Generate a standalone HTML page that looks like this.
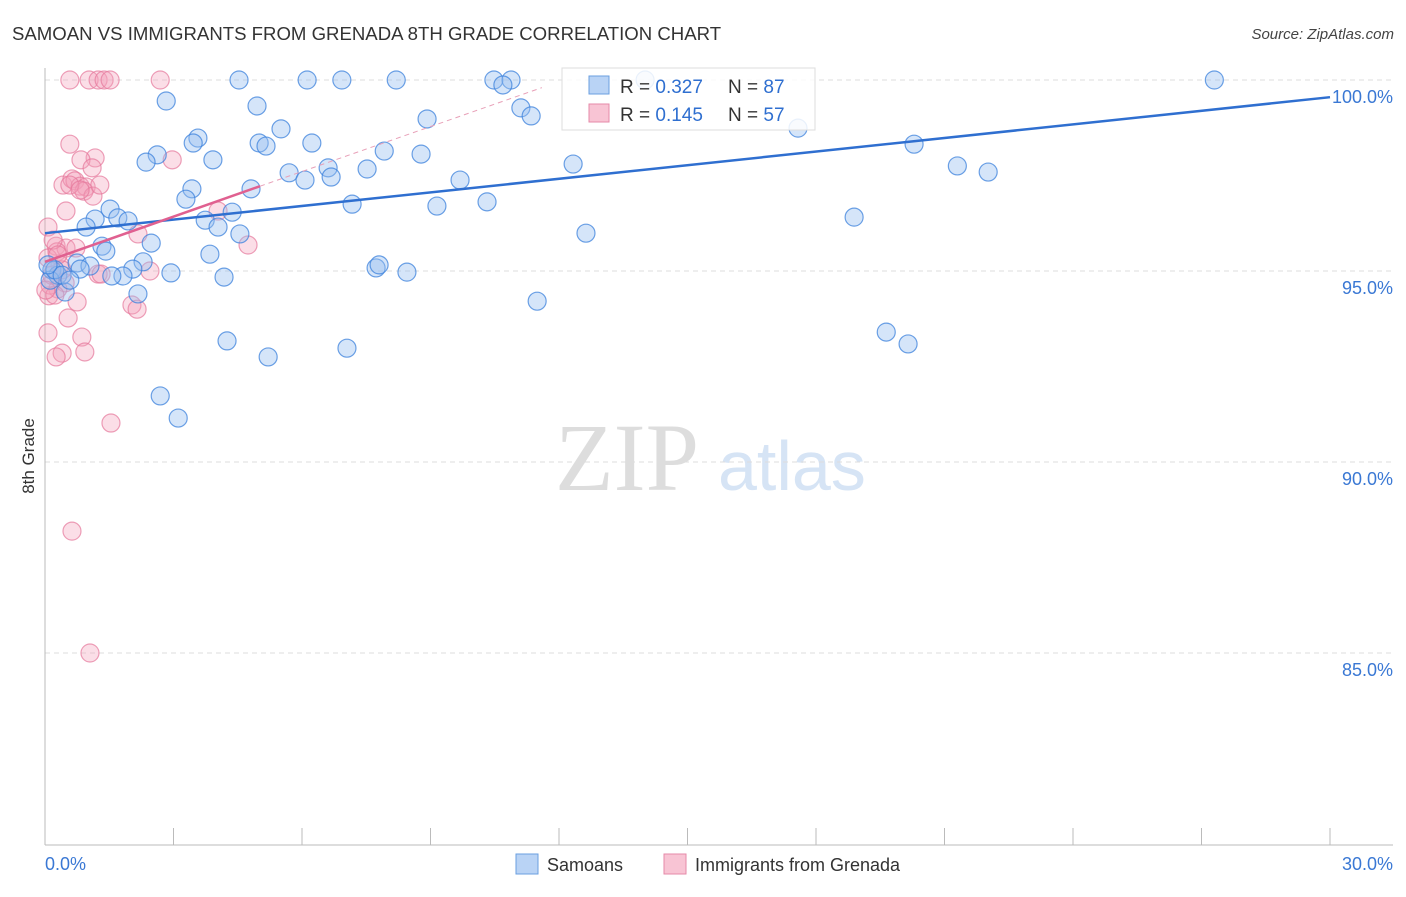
<!DOCTYPE html>
<html><head><meta charset="utf-8"><style>
body{margin:0;background:#fff;font-family:"Liberation Sans",sans-serif}
svg text{font-family:"Liberation Sans",sans-serif}
</style></head><body>
<svg id="chart" width="1406" height="892" viewBox="0 0 1406 892" xmlns="http://www.w3.org/2000/svg">
<text x="12" y="40" font-size="18.6" fill="#333">SAMOAN VS IMMIGRANTS FROM GRENADA 8TH GRADE CORRELATION CHART</text>
<text x="1394" y="39" font-size="15" fill="#444" text-anchor="end" font-style="italic">Source: ZipAtlas.com</text>
<g>
<text x="555" y="490" font-size="96" fill="#ddd" style="font-family:'Liberation Serif',serif">ZIP</text>
<text x="718" y="490" font-size="70" fill="#d6e4f5">atlas</text>
</g>
<g id="grid"></g>
<g id="axes"></g>
<g id="pts"></g>
<g id="trends"></g>
<text transform="translate(34,456) rotate(-90)" font-size="17" fill="#333" text-anchor="middle">8th Grade</text>
<g>
<rect x="562" y="68" width="253" height="62" fill="#fff" fill-opacity="0.85" stroke="#ddd"/>
<rect x="589" y="76" width="20" height="18" fill="#b9d3f5" stroke="#6a9fe0"/>
<rect x="589" y="104" width="20" height="18" fill="#f8c4d4" stroke="#e68aa8"/>
<text x="620" y="93" font-size="19" fill="#333">R = <tspan fill="#2f6fd0">0.327</tspan></text>
<text x="728" y="93" font-size="19" fill="#333">N = <tspan fill="#2f6fd0">87</tspan></text>
<text x="620" y="121" font-size="19" fill="#333">R =  <tspan fill="#2f6fd0">0.145</tspan></text>
<text x="728" y="121" font-size="19" fill="#333">N = <tspan fill="#2f6fd0">57</tspan></text>
</g>
<g>
<rect x="516" y="854" width="22" height="20" fill="#b9d3f5" stroke="#6a9fe0"/>
<text x="547" y="871" font-size="18" fill="#333">Samoans</text>
<rect x="664" y="854" width="22" height="20" fill="#f8c4d4" stroke="#e68aa8"/>
<text x="695" y="871" font-size="18" fill="#333">Immigrants from Grenada</text>
</g>
</svg>
<script>
const blueX=[4.53,6.12,6.93,8.20,10.48,10.88,10.69,27.30,2.83,4.95,11.11,11.35,8.92,5.51,3.57,3.46,5.00,5.16,6.23,7.92,8.78,2.62,2.36,3.92,12.33,6.61,7.52,5.70,6.07,6.68,9.69,4.81,3.43,3.29,7.17,9.15,10.32,1.52,1.17,1.70,1.94,3.74,4.04,4.37,0.96,4.55,12.63,18.89,2.48,1.33,1.42,3.85,2.29,0.75,1.05,0.82,0.16,0.30,2.05,1.82,2.94,1.56,4.18,7.73,7.80,8.45,2.17,11.49,0.47,4.25,5.21,7.05,19.64,20.15,2.69,3.11,17.58,20.29,21.30,22.02,0.12,0.23,0.40,0.58,0.07,14.01];
const blueY=[100,100,100,100,100,100,99.87,100,99.45,99.32,99.27,99.06,98.98,98.72,98.48,98.35,98.35,98.27,98.35,98.14,98.06,98.04,97.85,97.91,97.80,97.70,97.67,97.57,97.38,97.46,97.38,97.15,97.15,96.88,96.75,96.70,96.81,96.62,96.36,96.39,96.31,96.33,96.15,96.54,96.15,95.97,95.99,96.41,95.73,95.65,95.52,95.44,95.24,95.21,95.13,95.05,95.03,94.89,95.05,94.87,94.95,94.87,94.84,95.08,95.16,94.97,94.40,94.21,94.45,93.17,92.75,92.98,93.40,93.09,91.73,91.15,98.74,98.32,97.75,97.59,94.76,95.03,94.89,94.76,95.16,100];
const pinkX=[0.58,1.03,1.24,1.38,1.52,2.69,0.58,1.17,0.84,1.10,0.42,0.63,0.70,0.82,0.96,0.91,1.12,2.97,0.49,0.07,2.17,0.26,0.49,0.72,0.07,0.28,4.04,4.74,2.45,1.24,1.31,0.47,0.30,0.09,0.75,0.54,2.03,2.15,0.86,0.07,0.93,0.40,0.26,1.54,0.63,1.05,0.12,0.23,0.35,0.16,0.02,0.19,0.40,0.30,0.58,0.82,1.28];
const pinkY=[100,100,100,100,100,100,98.32,97.96,97.91,97.70,97.25,97.41,97.36,97.22,97.20,97.09,96.96,97.91,96.57,96.15,95.97,95.65,95.60,95.60,95.34,95.50,96.57,95.68,95.00,94.92,94.92,94.69,94.53,94.35,94.19,93.77,94.11,94.00,93.27,93.38,92.88,92.85,92.75,91.02,88.19,85.00,94.63,94.37,95.16,94.89,94.50,95.81,95.03,95.42,97.25,97.12,97.25];
const yTicks=[100,95,90,85];
const yTickLabels=["100.0%","95.0%","90.0%","85.0%"];
const xTicks=[0,3,6,9,12,15,18,21,24,27,30];
const blueTrend=[[0,95.99],[30,99.55]];
const pinkTrend=[[0,95.24],[5.02,97.22]];
const pinkTrendExt=[[5.02,97.22],[11.6,99.8]];
const NS="http://www.w3.org/2000/svg";
const xs=v=>45+v/30*1285;
const ys=v=>80+(100-v)/5*191;
function mk(tag,attrs,parent){const e=document.createElementNS(NS,tag);for(const k in attrs)e.setAttribute(k,attrs[k]);document.getElementById(parent).appendChild(e);return e;}
yTicks.forEach((t,i)=>{
 const l=mk('line',{x1:45,x2:1393,y1:ys(t),y2:ys(t),stroke:'#ddd','stroke-dasharray':'5,4'},'grid');
 
 
 const tx=mk('text',{x:1393,y:ys(t)+23,'font-size':18,fill:'#3a78d4','text-anchor':'end'},'grid');
 tx.textContent=yTickLabels[i];
 
 
});
const ya=mk('line',{x1:45,x2:45,y1:68,y2:845,stroke:'#bbb'},'axes');


const xa=mk('line',{x1:45,x2:1393,y1:845,y2:845,stroke:'#bbb'},'axes');


xTicks.forEach(t=>{
 const l=mk('line',{x1:xs(t),x2:xs(t),y1:828,y2:845,stroke:'#bbb'},'axes');
 
 
});
[[0,'0.0%','start',45],[30,'30.0%','end',1393]].forEach(d=>{
 const tx=mk('text',{x:d[3],y:870,'font-size':18,fill:'#3a78d4','text-anchor':d[2]},'axes');
 tx.textContent=d[1];
 
 
});
pinkX.forEach((x,i)=>{
 const c=mk('circle',{cx:xs(x),cy:ys(pinkY[i]),r:9,fill:'rgba(244,160,186,0.35)',stroke:'rgba(230,120,155,0.7)','stroke-width':1.2},'pts');
 
 
});
blueX.forEach((x,i)=>{
 const c=mk('circle',{cx:xs(x),cy:ys(blueY[i]),r:9,fill:'rgba(150,190,240,0.4)',stroke:'rgba(60,130,220,0.75)','stroke-width':1.2},'pts');
 
 
});
function tl(p,st,w,dash,name){
 const l=mk('line',{x1:xs(p[0][0]),y1:ys(p[0][1]),x2:xs(p[1][0]),y2:ys(p[1][1]),stroke:st,'stroke-width':w},'trends');
 if(dash)l.setAttribute('stroke-dasharray',dash);
 
 
}
tl(blueTrend,'#2f6fd0',2.5,null,'samoan-trend-line');
tl(pinkTrend,'#e06090',2.5,null,'grenada-trend-line');
tl(pinkTrendExt,'#e8a0b8',1,'5,4','grenada-trend-extension');
</script>
</body></html>
